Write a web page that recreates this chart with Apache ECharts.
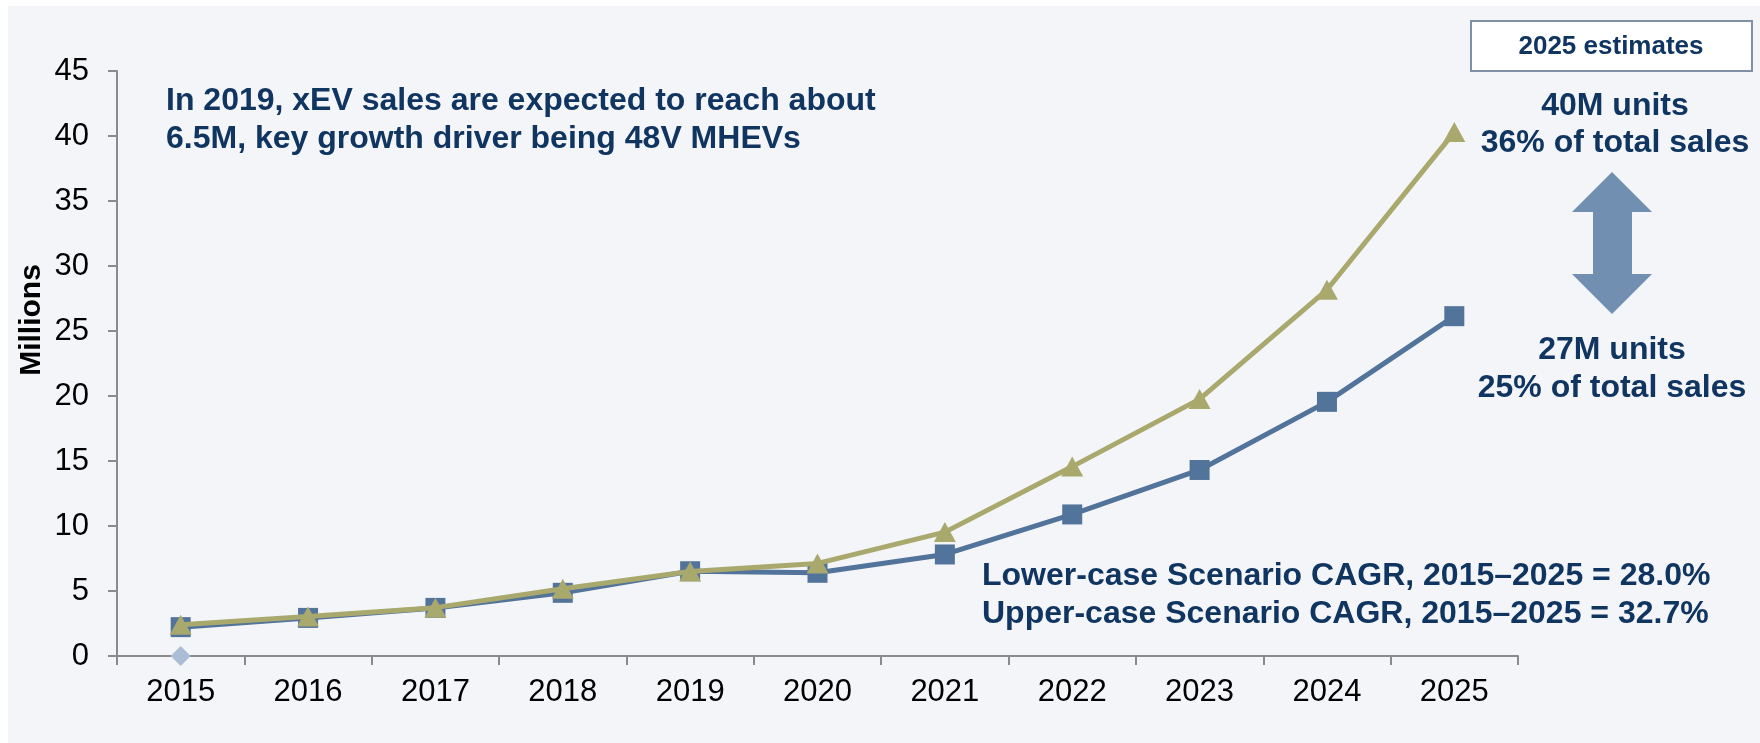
<!DOCTYPE html>
<html>
<head>
<meta charset="utf-8">
<script src="https://cdn.jsdelivr.net/npm/echarts@6/dist/echarts.min.js"></script>
<style>
html,body{margin:0;padding:0;background:#ffffff;}
#chart{width:1760px;height:743px;}
</style>
</head>
<body>
<div id="chart"></div>
<script>
// ---- data ----
const years = ['2015','2016','2017','2018','2019','2020','2021','2022','2023','2024','2025'];
const lowerCase = [2.22, 2.93, 3.70, 4.86, 6.52, 6.40, 7.81, 10.89, 14.31, 19.55, 26.14];
const upperCase = [2.41, 3.03, 3.72, 5.17, 6.50, 7.12, 9.53, 14.57, 19.76, 28.17, 40.3];
const baseMarker = [0];
const yTicks = {min: 0, max: 45, interval: 5};

const FONT = "'Liberation Sans', Arial, sans-serif";
const NAVY = '#0f3560';
const BLUE = '#52739a';
const OLIVE = '#a9a96e';

const chart = echarts.init(document.getElementById('chart'), null, {renderer: 'canvas'});

const option = {
  backgroundColor: '#ffffff',
  animation: false,
  grid: {left: 117, right: 242, top: 71, bottom: 87, containLabel: false},
  xAxis: {
    type: 'category',
    data: years,
    boundaryGap: true,
    axisLine: {show: true, lineStyle: {color: '#8a8a8a', width: 2}},
    axisTick: {show: true, length: 9, inside: false, lineStyle: {color: '#8a8a8a', width: 2}},
    axisLabel: {color: '#000', fontFamily: FONT, fontSize: 31, margin: 21},
    splitLine: {show: false}
  },
  yAxis: {
    type: 'value',
    min: yTicks.min, max: yTicks.max, interval: yTicks.interval,
    axisLine: {show: true, lineStyle: {color: '#8a8a8a', width: 2}},
    axisTick: {show: true, length: 9, inside: false, lineStyle: {color: '#8a8a8a', width: 2}},
    axisLabel: {color: '#000', fontFamily: FONT, fontSize: 31, margin: 28},
    splitLine: {show: false}
  },
  series: [
    {
      name: 'Base', type: 'line', data: baseMarker,
      symbol: 'diamond', symbolSize: [20, 20],
      itemStyle: {color: '#a9bdd4'}, lineStyle: {width: 0}, z: 1
    },
    {
      name: 'Lower-case', type: 'line', data: lowerCase,
      symbol: 'rect', symbolSize: 20, showAllSymbol: true,
      itemStyle: {color: BLUE}, lineStyle: {color: BLUE, width: 5}, z: 2
    },
    {
      name: 'Upper-case', type: 'line', data: upperCase,
      symbol: 'triangle', symbolSize: [22, 20], showAllSymbol: true,
      itemStyle: {color: OLIVE}, lineStyle: {color: OLIVE, width: 5}, z: 3
    }
  ],
  graphic: [
    {type: 'rect', z: -10, silent: true, shape: {x: 8, y: 6, width: 1752, height: 737}, style: {fill: '#f4f5f9'}},
    {type: 'text', z: 10, x: 32, y: 320, rotation: Math.PI / 2,
      style: {text: 'Millions', font: "bold 30px " + FONT, fill: '#000', textAlign: 'center', textVerticalAlign: 'middle'}},
    {type: 'text', z: 10, x: 166, y: 101,
      style: {text: 'In 2019, xEV sales are expected to reach about', font: "bold 32px " + FONT, fill: NAVY, textAlign: 'left', textVerticalAlign: 'middle'}},
    {type: 'text', z: 10, x: 166, y: 139,
      style: {text: '6.5M, key growth driver being 48V MHEVs', font: "bold 32px " + FONT, fill: NAVY, textAlign: 'left', textVerticalAlign: 'middle'}},
    {type: 'rect', z: 10, shape: {x: 1471, y: 21, width: 281, height: 50}, style: {fill: '#ffffff', stroke: '#7f8fa6', lineWidth: 2}},
    {type: 'text', z: 11, x: 1611, y: 47,
      style: {text: '2025 estimates', font: "bold 26px " + FONT, fill: NAVY, textAlign: 'center', textVerticalAlign: 'middle'}},
    {type: 'text', z: 10, x: 1615, y: 106,
      style: {text: '40M units', font: "bold 32px " + FONT, fill: NAVY, textAlign: 'center', textVerticalAlign: 'middle'}},
    {type: 'text', z: 10, x: 1615, y: 143,
      style: {text: '36% of total sales', font: "bold 32px " + FONT, fill: NAVY, textAlign: 'center', textVerticalAlign: 'middle'}},
    {type: 'text', z: 10, x: 1612, y: 350,
      style: {text: '27M units', font: "bold 32px " + FONT, fill: NAVY, textAlign: 'center', textVerticalAlign: 'middle'}},
    {type: 'text', z: 10, x: 1612, y: 388,
      style: {text: '25% of total sales', font: "bold 32px " + FONT, fill: NAVY, textAlign: 'center', textVerticalAlign: 'middle'}},
    {type: 'polygon', z: 10, shape: {points: [
        [1612, 172], [1652, 212], [1632, 212], [1632, 274], [1652, 274],
        [1612, 314], [1572, 274], [1593, 274], [1593, 212], [1572, 212]]},
      style: {fill: '#7190b1'}},
    {type: 'text', z: 10, x: 982, y: 576,
      style: {text: 'Lower-case Scenario CAGR, 2015\u20132025 = 28.0%', font: "bold 32px " + FONT, fill: NAVY, textAlign: 'left', textVerticalAlign: 'middle'}},
    {type: 'text', z: 10, x: 982, y: 614,
      style: {text: 'Upper-case Scenario CAGR, 2015\u20132025 = 32.7%', font: "bold 32px " + FONT, fill: NAVY, textAlign: 'left', textVerticalAlign: 'middle'}}
  ]
};
chart.setOption(option);
</script>
</body>
</html>
